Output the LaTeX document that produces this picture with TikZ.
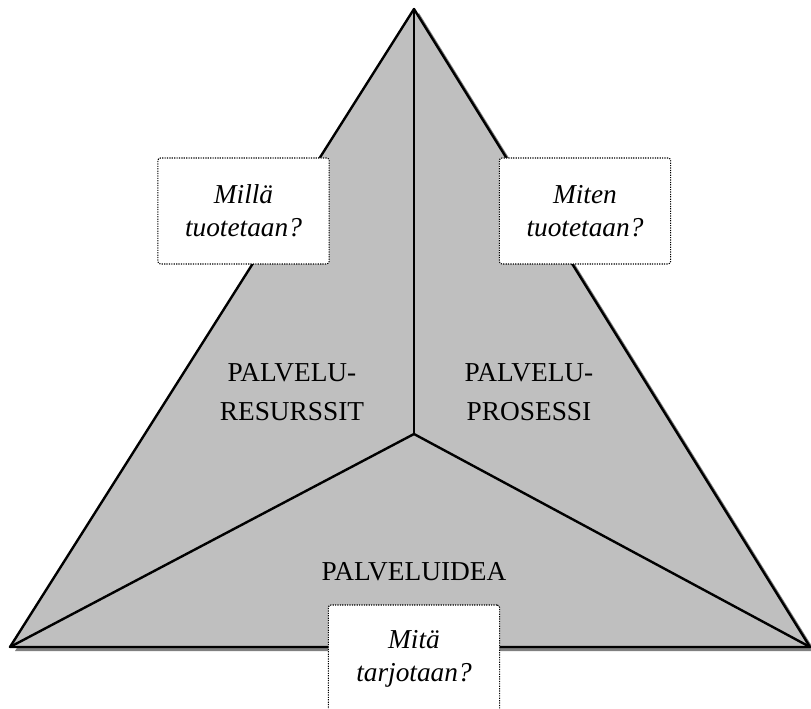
\documentclass[tikz,border=0pt]{standalone}
\usepackage{fontspec}
\setmainfont{Liberation Serif}
\usetikzlibrary{positioning}
\colorlet{triC}{black!25}
\colorlet{shadC}{black!50}
\tikzstyle{qbox}=[draw, fill=white, line width=0.8pt, dash pattern=on 0.9pt off 0.9pt, rounded corners=2pt, minimum width=128.5pt, minimum height=79.5pt, inner sep=0pt, align=center, font=\itshape\fontsize{20.5}{25}\selectfont]
\tikzstyle{lbl}=[align=center, inner sep=0pt, font=\fontsize{20.5}{29}\selectfont]
\tikzstyle{tline}=[line width=1.8pt, line join=round]
\def\qbox{\node[style=qbox]}
\def\lbl{\node[style=lbl]}
\def\tline{\draw[style=tline]}

\begin{document}
\begin{tikzpicture}[x=0.75pt, y=-0.75pt]
      \clip (0,0) rectangle (811,709);
      % corners
      \coordinate (Apex)   at (414,9);
      \coordinate (Left)   at (10,647);
      \coordinate (Right)  at (810,647);
      \coordinate (Centre) at (414,434);
      % shadow and face
      \fill[shadC] ([shift={(5,4)}]Apex) -- ([shift={(5,4)}]Left) -- ([shift={(5,4)}]Right) -- cycle;
      \fill[triC] (Apex) -- (Left) -- (Right) -- cycle;
      \tline (Apex) -- (Left) -- (Right) -- cycle;
      \tline (Centre) -- (Apex);
      \tline (Centre) -- (Left);
      \tline (Centre) -- (Right);
      % next
      \lbl (Resurssit) at (292,392) {PALVELU-\\RESURSSIT};
      \lbl (Prosessi)  at (529,392) {PALVELU-\\PROSESSI};
      \lbl (Idea)      at (414,572) {PALVELUIDEA};
      % next
      \qbox (Milla) at (243.5,211) {Millä\\tuotetaan?};
      \qbox (Miten) at (585,211)   {Miten\\tuotetaan?};
      \qbox[minimum height=81pt] (Mita) at (414,659) {Mitä\\tarjotaan?};
\end{tikzpicture}
\end{document}
